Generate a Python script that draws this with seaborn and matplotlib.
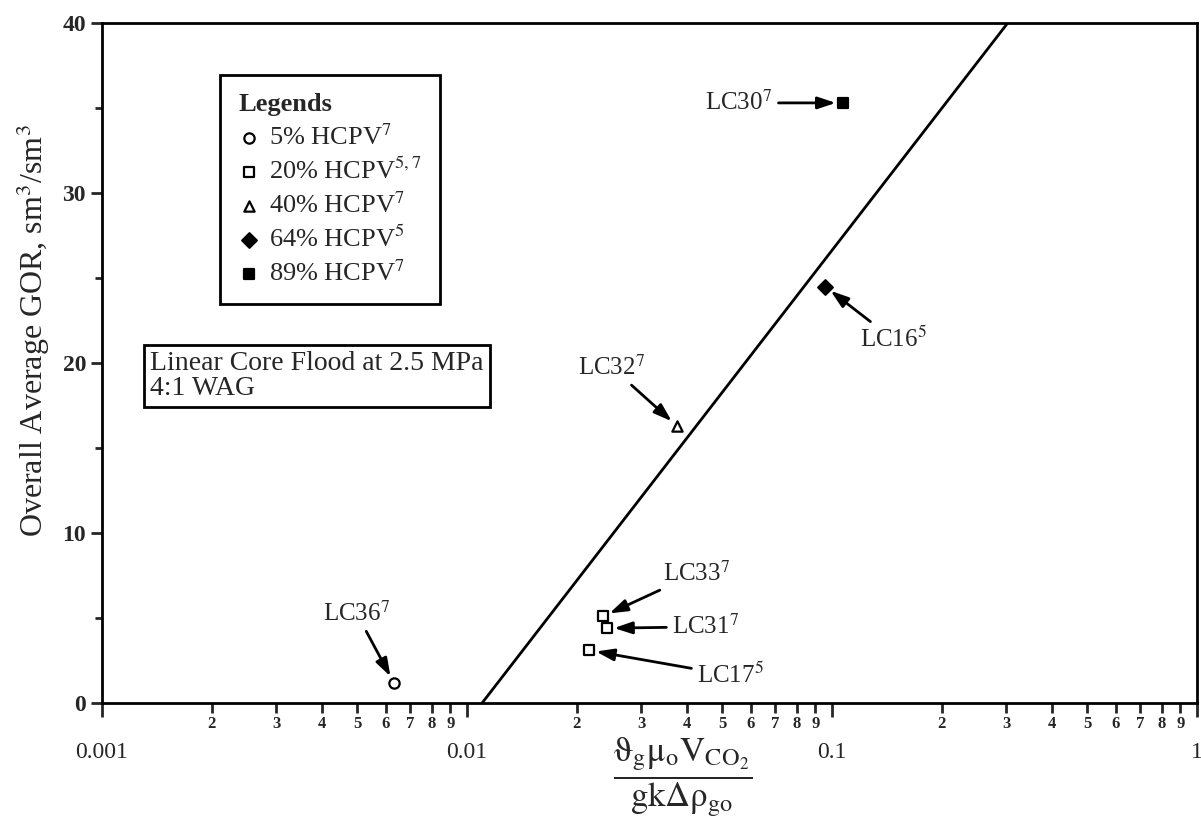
import matplotlib
matplotlib.use("Agg")
import matplotlib.pyplot as plt
import numpy as np
import pandas as pd
import seaborn as sns
from matplotlib.ticker import FixedLocator, FuncFormatter

# --- data -------------------------------------------------------------
run_names = ["LC36", "LC17", "LC33", "LC31", "LC32", "LC16", "LC30"]
run_refs = ["7", "5", "7", "7", "7", "5", "7"]
slug_size = ["5%", "20%", "20%", "20%", "40%", "64%", "89%"]
gravity_number = [0.0063, 0.0216, 0.0236, 0.0242, 0.0376, 0.0957, 0.107]
avg_gor = [1.2, 3.1, 5.1, 4.4, 16.3, 24.5, 35.3]

series_order = ["5%", "20%", "40%", "64%", "89%"]
series_labels = ["5% HCPV$^7$", "20% HCPV$^{5,7}$", "40% HCPV$^7$",
                 "64% HCPV$^5$", "89% HCPV$^7$"]

# correlation line end points
trend_x = [0.011, 0.303]
trend_y = [0.0, 40.0]

x_major = [0.001, 0.01, 0.1, 1]
x_major_labels = ["0.001", "0.01", "0.1", "1"]
y_ticks = [0, 10, 20, 30, 40]
y_minor_ticks = [5, 15, 25, 35]

# --- styling ------------------------------------------------------------
sns.set_style("ticks")
plt.rcParams["font.family"] = ["Liberation Serif", "DejaVu Serif"]
plt.rcParams["mathtext.fontset"] = "stix"

marker_style = {
    "5%": dict(marker="o", facecolor="white"),
    "20%": dict(marker="s", facecolor="white"),
    "40%": dict(marker="^", facecolor="white"),
    "64%": dict(marker="D", facecolor="black"),
    "89%": dict(marker="s", facecolor="black"),
}

df = pd.DataFrame({"run": run_names, "ref": run_refs, "series": slug_size,
                   "x": gravity_number, "y": avg_gor})

fig = plt.figure(figsize=(12.01, 8.17), dpi=100)
ax = fig.add_axes([102 / 1201, 1 - 703 / 817, 1095 / 1201, 680 / 817])

ax.plot(trend_x, trend_y, color="black", lw=2)

for key, lab in zip(series_order, series_labels):
    sub = df[df["series"] == key]
    st = marker_style[key]
    sns.scatterplot(data=sub, x="x", y="y", ax=ax, marker=st["marker"],
                    facecolor=st["facecolor"], edgecolor="black",
                    linewidth=1.6, s=55, label=lab, zorder=5)

ax.set_xscale("log")
ax.set_xlim(0.001, 1)
ax.set_ylim(0, 40)

# annotation offsets in points (layout only)
label_offsets = {
    "LC36": (-51, 50), "LC32": (-71, 42), "LC33": (43, 31),
    "LC31": (47, 1), "LC17": (78, -18), "LC16": (25, -38),
    "LC30": (-99, 0),
}
for name, ref, xv, yv in zip(run_names, run_refs, gravity_number, avg_gor):
    ax.annotate(f"{name}$^{{{ref}}}$", xy=(xv, yv), xytext=label_offsets[name],
                textcoords="offset points", ha="left", va="center",
                fontsize=18,
                arrowprops=dict(arrowstyle="-|>,head_length=0.6,head_width=0.2",
                                color="black", lw=2, mutation_scale=18,
                                shrinkA=2, shrinkB=5))

# axes ticks
ax.xaxis.set_major_locator(FixedLocator(x_major))
ax.xaxis.set_major_formatter(FuncFormatter(
    lambda v, p: x_major_labels[int(round(np.log10(v))) + 3]))
minor_pos = [m * 10.0 ** e for e in (-3, -2, -1) for m in range(2, 10)]
ax.xaxis.set_minor_locator(FixedLocator(minor_pos))
ax.xaxis.set_minor_formatter(FuncFormatter(
    lambda v, p: str(int(round(v / 10 ** np.floor(np.log10(v) + 1e-9))))))
ax.set_yticks(y_ticks)
ax.yaxis.set_minor_locator(FixedLocator(y_minor_ticks))

ax.tick_params(axis="x", which="major", length=10, width=2, pad=18,
               labelsize=17, direction="out")
ax.tick_params(axis="x", which="minor", length=7, width=2, pad=2,
               labelsize=12, direction="out")
ax.tick_params(axis="y", which="major", length=8, width=2, labelsize=17,
               direction="out")
ax.tick_params(axis="y", which="minor", length=5, width=2, direction="out")
for sp in ax.spines.values():
    sp.set_visible(True)
    sp.set_linewidth(2)
    sp.set_color("black")

ax.set_xlabel("")
ax.set_ylabel("Overall Average GOR, sm$^3$/sm$^3$", fontsize=23)
ax.yaxis.set_label_coords(-(102 - 52) / 1095, 0.547)

fig.text(683 / 1201, 1 - 777 / 817,
         r"$\dfrac{\mathrm{\vartheta_g\mu_o V_{CO_2}}}{\mathrm{gk\Delta\rho_{go}}}$",
         fontsize=25, ha="center", va="center")

leg = ax.legend(title="Legends", loc="upper left",
                bbox_to_anchor=((220 - 102) / 1095, (703 - 75) / 680),
                borderaxespad=0, alignment="left", fontsize=19,
                title_fontproperties={"weight": "bold", "size": 19},
                frameon=True, fancybox=False, framealpha=1,
                edgecolor="black", handletextpad=0.35, handlelength=0.8,
                labelspacing=0.3, borderpad=0.7)
leg.get_frame().set_linewidth(2)

ax.text((150 - 102) / 1095, (703 - 351) / 680,
        "Linear Core Flood at 2.5 MPa\n4:1 WAG", transform=ax.transAxes,
        ha="left", va="top", fontsize=20, linespacing=1.0,
        bbox=dict(boxstyle="square,pad=0.22", fc="white", ec="black", lw=2))

fig.canvas.draw()
for t in ax.get_xticklabels(minor=True):
    t.set_fontweight("bold")
for t in ax.get_yticklabels():
    t.set_fontweight("bold")

fig.savefig("out.png", dpi=100)
